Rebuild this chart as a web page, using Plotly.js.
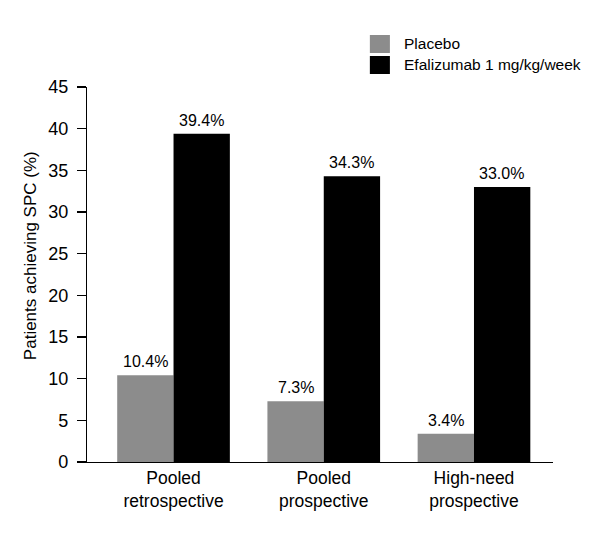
<!DOCTYPE html>
<html>
<head>
<meta charset="utf-8">
<script src="https://cdn.plot.ly/plotly-3.0.1.min.js"></script>
<style>html,body{margin:0;padding:0;background:#fff;}#chart{width:600px;height:537px;}</style>
</head>
<body>
<div id="chart"></div>
<script>
var categories = ["Pooled<br>retrospective", "Pooled<br>prospective", "High-need<br>prospective"];
var seriesNames = ["Placebo", "Efalizumab 1 mg/kg/week"];
var placebo = [10.4, 7.3, 3.4];
var efalizumab = [39.4, 34.3, 33.0];
var yTicks = [0, 5, 10, 15, 20, 25, 30, 35, 40, 45];
var yTitle = "Patients achieving SPC (%)";

var colors = ["#8c8c8c", "#000000"];
var font = "Liberation Sans, Arial, Helvetica, sans-serif";

var traces = [
  {type: "bar", name: seriesNames[0], x: categories, y: placebo, marker: {color: colors[0]}, hoverinfo: "skip"},
  {type: "bar", name: seriesNames[1], x: categories, y: efalizumab, marker: {color: colors[1]}, hoverinfo: "skip"}
];

var annotations = [];
[placebo, efalizumab].forEach(function (vals, s) {
  vals.forEach(function (v, i) {
    annotations.push({
      x: categories[i], y: v, xref: "x", yref: "y",
      text: v.toFixed(1) + "%", showarrow: false,
      xanchor: "center", yanchor: "bottom",
      xshift: s === 0 ? -28 : 28, yshift: 3,
      font: {family: font, size: 16, color: "#000"}
    });
  });
});

// y-axis title placed as rotated annotation
annotations.push({xref: "paper", yref: "paper", x: -0.1223, y: 0.549,
  xanchor: "center", yanchor: "middle", showarrow: false, textangle: -90,
  text: yTitle, font: {family: font, size: 17, color: "#000"}});

// legend (drawn manually for larger swatches)
var legendY = [1.1147, 1.0587];
var shapes = [];
seriesNames.forEach(function (n, s) {
  shapes.push({type: "rect", xref: "paper", yref: "paper",
    x0: 0.607, x1: 0.650, y0: legendY[s] - 0.024, y1: legendY[s] + 0.024,
    fillcolor: colors[s], line: {width: 0}});
  annotations.push({xref: "paper", yref: "paper", x: 0.676, y: legendY[s],
    xanchor: "left", yanchor: "middle", showarrow: false, text: n,
    font: {family: font, size: 15.5, color: "#000"}});
});

var layout = {
  width: 600, height: 537,
  margin: {l: 87, r: 47, t: 87, b: 75},
  paper_bgcolor: "#fff", plot_bgcolor: "#fff",
  showlegend: false,
  barmode: "group", bargap: 0.25, bargroupgap: 0,
  font: {family: font, color: "#000"},
  xaxis: {
    type: "category", range: [-0.576, 2.526],
    showline: true, linecolor: "#000", linewidth: 1.2,
    ticks: "", showgrid: false, zeroline: false,
    tickfont: {family: font, size: 17.5, color: "#000"}
  },
  yaxis: {
    range: [0, 45], tickvals: yTicks, ticktext: yTicks.map(String),
    showline: true, linecolor: "#000", linewidth: 1.2,
    ticks: "outside", ticklen: 9, tickcolor: "#000", tickwidth: 1.2,
    ticklabelstandoff: 5,
    showgrid: false, zeroline: false,
    tickfont: {family: font, size: 18, color: "#000"}
  },
  shapes: shapes,
  annotations: annotations
};

Plotly.newPlot("chart", traces, layout, {displayModeBar: false, staticPlot: true});
</script>
</body>
</html>
